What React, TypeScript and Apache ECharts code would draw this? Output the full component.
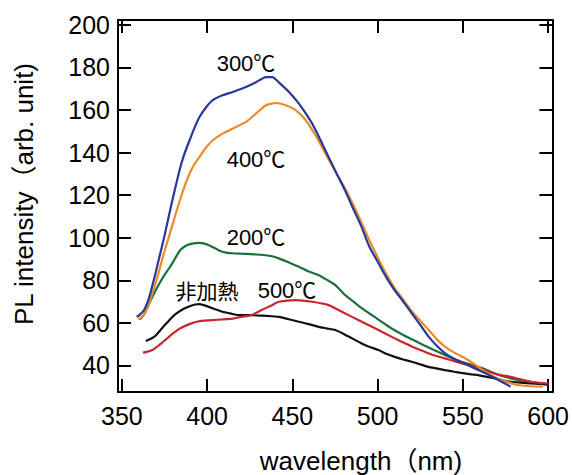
import React, { useEffect, useRef } from "react";
import * as echarts from "echarts";

// ---- data ----
const xTicks = [350, 400, 450, 500, 550, 600];
const yTicks = [40, 60, 80, 100, 120, 140, 160, 180, 200];

const x300 = [358.6, 360, 363, 366, 369, 372, 375, 378, 380, 383.8, 386.5, 389.7, 392.5, 395.5, 399.5, 403.3, 409, 415, 422.8, 428.6, 434.4, 438.3, 442, 448, 453.8, 461.6, 469.4, 476, 481, 486, 490.6, 495, 500.5, 505, 510, 515, 520, 525, 530, 535, 539.4, 545, 551, 557, 563, 570, 578];
const y300 = [62.8, 63.5, 66, 72, 81, 91, 101, 112, 119, 131.7, 139, 145.8, 151.5, 156.7, 161.4, 164.6, 166.9, 168.5, 170.8, 173, 175.5, 175.5, 173, 168.5, 163, 153.6, 141, 130, 122, 113, 105, 96, 88, 81.5, 75.3, 70, 64.5, 59, 53.4, 49, 45.8, 43, 41, 38.5, 36.4, 33.5, 30];

const x400 = [359.5, 362, 365, 368, 371, 374, 377, 380, 383, 386, 389.7, 392.5, 395.5, 399.5, 403.3, 409, 415, 422.8, 428.6, 434.4, 440.3, 446.1, 451.9, 457.8, 463.6, 469.4, 476, 481, 486, 490.6, 495, 500.5, 505, 510, 515, 520, 525, 530, 535, 540, 545, 551, 557, 563, 568.5, 575, 582, 590, 597];
const y400 = [61.6, 63, 67, 74, 82, 91, 99, 107, 115, 122.5, 130.2, 134.5, 138, 142.5, 145.8, 148.9, 151.3, 154.4, 158.3, 162.2, 163.3, 162.2, 159.9, 155.2, 148, 139.5, 130, 123, 115, 107, 99, 90, 83, 76.3, 71, 65.5, 61, 56.6, 52, 48.5, 46, 43.5, 40.5, 37, 34.6, 32.5, 30.8, 30.2, 30];

const x200 = [360.5, 363, 366, 369, 372, 375, 378, 381, 384, 387, 390, 395.5, 401, 407, 411, 415, 420, 426, 432, 438, 442, 448, 453.8, 460, 465.5, 470, 475.2, 481, 486, 490.8, 495, 500.5, 505, 510, 515, 520, 525, 529.7, 535, 539.4, 545, 549, 555, 559, 564, 568.6, 573, 578, 584, 590, 595, 600];
const y200 = [61.6, 64, 69, 74, 78.5, 82.5, 86, 90, 94, 96, 97, 97.6, 96.5, 94, 93, 92.7, 92.5, 92.3, 92, 91.3, 90.3, 88.3, 86.3, 84, 82.4, 80.3, 77.7, 73, 69.8, 66.8, 64.5, 61.5, 59, 56.5, 54.3, 52.3, 50.3, 48.5, 46.5, 44.9, 43, 41.7, 40.3, 39.3, 37.8, 36.2, 35, 33.9, 33, 32.3, 31.5, 30.7];

const x500 = [362.4, 365, 368, 371, 374, 377, 380, 383, 386, 390, 394, 398, 403, 409, 415, 420, 426, 432, 438, 442, 452, 461.6, 471.3, 477, 485, 492.8, 500.5, 508.3, 515, 520, 525, 529.7, 535, 539.4, 545, 549, 555, 559, 564, 568.6, 573, 578, 584, 590, 595, 600];
const y500 = [46, 46.5, 47.2, 49, 51, 53, 55, 56.8, 58.2, 59.5, 60.5, 61, 61.3, 61.6, 62, 62.8, 63.6, 66, 68.3, 69.9, 70.7, 69.9, 68.3, 66, 62.8, 59.7, 56.6, 53.4, 50.8, 48.9, 47.2, 45.7, 44.3, 43.3, 42, 41, 39.6, 38.6, 37.3, 36.2, 35.3, 34.6, 33.4, 32.3, 31.8, 31.5];

const xRaw = [364, 367, 370, 373, 376, 379, 382, 386, 389.7, 393, 395.5, 398, 401, 405, 409, 414, 418.8, 426, 432, 438, 442, 448, 453.8, 460, 465.5, 470, 475.2, 480, 485, 490.6, 495, 500.5, 505, 510, 515, 520, 525, 529.7, 535, 539.4, 545, 549, 555, 559, 564, 568.6, 573, 578, 584, 590, 595, 600];
const yRaw = [51.5, 52.5, 54.2, 57, 59.7, 62.3, 64.4, 66.5, 67.8, 68.6, 68.8, 68.3, 67.5, 66.3, 65.2, 64.3, 63.6, 63.6, 63.4, 63.1, 62.8, 61.7, 60.5, 59.3, 58.1, 57.4, 56.6, 54.8, 52.7, 50.3, 48.8, 47.2, 45.5, 44, 42.8, 41.7, 40.5, 39.3, 38.5, 37.8, 37, 36.5, 35.8, 35.4, 34.6, 33.9, 33.1, 32.3, 31.9, 31.5, 31.3, 31.2];

const seriesNames = ["非加熱", "200℃", "300℃", "400℃", "500℃"];
const seriesColors = ["#111111", "#1b6f3b", "#25399a", "#ec8a2b", "#c9252f"];

const FONT = "'Liberation Sans', Arial, 'Noto Sans CJK JP', sans-serif";

const zip = (xs: number[], ys: number[]) => xs.map((x, i) => [x, ys[i]]);

export default function App() {
  const ref = useRef<HTMLDivElement>(null);
  useEffect(() => {
    if (!ref.current) return;
    const chart = echarts.init(ref.current, null, { renderer: "svg" });
    const XMIN = 347.7, XMAX = 602.5, YMIN = 27.5, YMAX = 202.3;
    const axisLine = { show: true, onZero: false, lineStyle: { color: "#000", width: 2 } };
    const tick = (vals: number[]) => ({ show: true, inside: true, length: 13, customValues: vals, lineStyle: { color: "#000", width: 2 } });
    const data = [zip(xRaw, yRaw), zip(x200, y200), zip(x300, y300), zip(x400, y400), zip(x500, y500)];
    const drawOrder = [1, 0, 4, 3, 2];
    chart.setOption({
      animation: false,
      backgroundColor: "#fff",
      grid: { left: 118, top: 20, right: 17, bottom: 83, containLabel: false },
      xAxis: [
        {
          type: "value", min: XMIN, max: XMAX, position: "bottom",
          axisLine, axisTick: tick(xTicks), splitLine: { show: false },
          axisLabel: { customValues: xTicks, fontSize: 25, color: "#000", fontFamily: FONT, margin: 11 },
        },
        {
          type: "value", min: XMIN, max: XMAX, position: "top",
          axisLine, axisTick: tick(xTicks), splitLine: { show: false }, axisLabel: { show: false },
        },
      ],
      yAxis: [
        {
          type: "value", min: YMIN, max: YMAX, position: "left",
          axisLine, axisTick: tick(yTicks), splitLine: { show: false },
          axisLabel: { customValues: yTicks, fontSize: 25, color: "#000", fontFamily: FONT, margin: 8 },
        },
        {
          type: "value", min: YMIN, max: YMAX, position: "right",
          axisLine, axisTick: tick(yTicks), splitLine: { show: false }, axisLabel: { show: false },
        },
      ],
      series: drawOrder.map((i) => ({
        name: seriesNames[i],
        type: "line",
        data: data[i],
        showSymbol: false,
        smooth: 0.2,
        lineStyle: { color: seriesColors[i], width: 2.2 },
        z: 3,
      })),
      graphic: [
        { type: "text", x: 24, y: 194, rotation: Math.PI / 2, style: { text: "PL intensity（arb. unit)", font: `26px ${FONT}`, fill: "#000", align: "center", verticalAlign: "middle" } },
        { type: "text", x: 361, y: 461, style: { text: "wavelength（nm)", font: `26px ${FONT}`, fill: "#000", align: "center", verticalAlign: "middle" } },
        { type: "text", x: 246, y: 63, style: { text: "300℃", font: `22px ${FONT}`, fill: "#000", align: "center", verticalAlign: "middle" } },
        { type: "text", x: 256, y: 159, style: { text: "400℃", font: `22px ${FONT}`, fill: "#000", align: "center", verticalAlign: "middle" } },
        { type: "text", x: 256, y: 237, style: { text: "200℃", font: `22px ${FONT}`, fill: "#000", align: "center", verticalAlign: "middle" } },
        { type: "text", x: 207, y: 290, style: { text: "非加熱", font: `21px 'Noto Sans CJK JP', sans-serif`, fill: "#000", align: "center", verticalAlign: "middle" } },
        { type: "text", x: 287, y: 290, style: { text: "500℃", font: `22px ${FONT}`, fill: "#000", align: "center", verticalAlign: "middle" } },
      ],
    });
    return () => chart.dispose();
  }, []);
  return <div ref={ref} style={{ width: 572, height: 475, position: "absolute", left: 0, top: 0 }} />;
}
